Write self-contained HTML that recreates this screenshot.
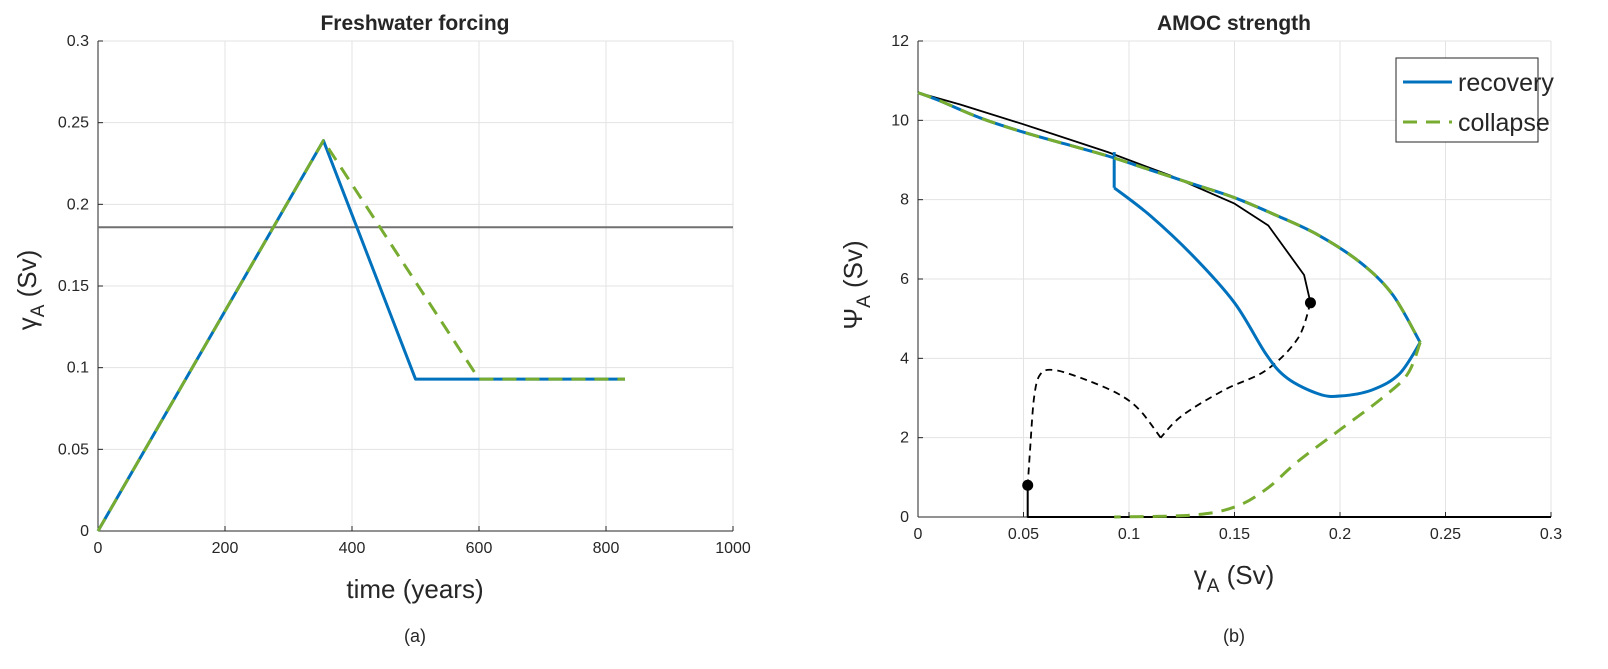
<!DOCTYPE html>
<html><head><meta charset="utf-8"><style>
body{margin:0;background:#fff}
svg text{font-family:"Liberation Sans",sans-serif;fill:#262626}
</style></head><body>
<svg id="c" width="1608" height="664" xmlns="http://www.w3.org/2000/svg"></svg>
<script>
// Left panel data
const leftTimeRecovery=[0,355,500,830];
const leftGammaRecovery=[0,0.239,0.093,0.093];
const leftTimeCollapse=[0,355,600,830];
const leftGammaCollapse=[0,0.239,0.093,0.093];
const leftThreshold=0.186;
const leftXTicks=[0,200,400,600,800,1000];
const leftYTicks=[0,0.05,0.1,0.15,0.2,0.25,0.3];
// Right panel data
const upperGamma=[0,0.01,0.03,0.05,0.07,0.09,0.11,0.13,0.15,0.17,0.19,0.21,0.225,0.238];
const upperPsi=[10.7,10.5,10.05,9.7,9.4,9.1,8.75,8.4,8.05,7.6,7.1,6.4,5.6,4.4];
const stableGamma=[0,0.02,0.05,0.09,0.12,0.15,0.166,0.183,0.186];
const stablePsi=[10.7,10.4,9.9,9.2,8.6,7.9,7.35,6.1,5.4];
const unstableGammaA=[0.186,0.18,0.165,0.145,0.125,0.115];
const unstablePsiA=[5.4,4.5,3.7,3.2,2.55,2.0];
const unstableGammaB=[0.115,0.105,0.095,0.08,0.065,0.058,0.055,0.053,0.052];
const unstablePsiB=[2.0,2.7,3.1,3.45,3.7,3.6,3.0,1.6,0.8];
const offGamma=[0.052,0.052,0.3];
const offPsi=[0.8,0,0];
const jumpGamma=[0.093,0.093];
const jumpPsi=[9.2,8.3];
const recGamma=[0.093,0.11,0.13,0.15,0.165,0.175,0.19,0.2,0.215,0.228,0.238];
const recPsi=[8.3,7.6,6.6,5.4,4.1,3.5,3.1,3.05,3.2,3.6,4.4];
const colGamma=[0.238,0.232,0.22,0.2,0.18,0.165,0.15,0.13,0.093];
const colPsi=[4.4,3.6,3.0,2.2,1.4,0.7,0.25,0.05,0];
const foldPointsGamma=[0.186,0.052];
const foldPointsPsi=[5.4,0.8];
const rightXTicks=[0,0.05,0.1,0.15,0.2,0.25,0.3];
const rightYTicks=[0,2,4,6,8,10,12];

const svg=document.getElementById('c');const NS='http://www.w3.org/2000/svg';
function el(t,a,p){const e=document.createElementNS(NS,t);for(const k in a)e.setAttribute(k,a[k]);(p||svg).appendChild(e);return e;}
function axes(x0,x1,y0,y1,xmin,xmax,ymin,ymax){return{X:v=>x0+(v-xmin)/(xmax-xmin)*(x1-x0),Y:v=>y0-(v-ymin)/(ymax-ymin)*(y0-y1),x0,x1,y0,y1};}
function frame(A,xt,yt,fx,fy,name){
 const g=el('g',{});
 xt.forEach(v=>{const x=A.X(v);el('line',{x1:x,x2:x,y1:A.y1,y2:A.y0,stroke:'#e3e3e3'},g);el('line',{x1:x,x2:x,y1:A.y0,y2:A.y0-5,stroke:'#262626'},g);
  const t=el('text',{x:x,y:A.y0+22,'text-anchor':'middle','font-size':16},g);t.textContent=fx(v);});
 yt.forEach(v=>{const y=A.Y(v);el('line',{x1:A.x0,x2:A.x1,y1:y,y2:y,stroke:'#e3e3e3'},g);el('line',{x1:A.x0,x2:A.x0+5,y1:y,y2:y,stroke:'#262626'},g);
  const t=el('text',{x:A.x0-9,y:y+5,'text-anchor':'end','font-size':16},g);t.textContent=fy(v);});
 el('line',{x1:A.x0,x2:A.x0,y1:A.y1,y2:A.y0,stroke:'#262626'},g);el('line',{x1:A.x0,x2:A.x1,y1:A.y0,y2:A.y0,stroke:'#262626'},g);
}
function line(A,xs,ys,st,name,smooth){
 const P=xs.map((v,i)=>[A.X(v),A.Y(ys[i])]);let d='M'+P[0][0].toFixed(1)+','+P[0][1].toFixed(1);
 for(let i=1;i<P.length;i++){
  if(smooth){const p0=P[Math.max(0,i-2)],p1=P[i-1],p2=P[i],p3=P[Math.min(P.length-1,i+1)];
   const c1=[p1[0]+(p2[0]-p0[0])/6,p1[1]+(p2[1]-p0[1])/6],c2=[p2[0]-(p3[0]-p1[0])/6,p2[1]-(p3[1]-p1[1])/6];
   d+='C'+c1.map(v=>v.toFixed(1))+' '+c2.map(v=>v.toFixed(1))+' '+p2.map(v=>v.toFixed(1));}
  else d+='L'+P[i][0].toFixed(1)+','+P[i][1].toFixed(1);}
 const p=el('path',Object.assign({d:d,fill:'none','stroke-linejoin':'round'},st));return p;}
const BLUE='#0072bd',GREEN='#77ac30';
// Left
const L=axes(98,733,531,41,0,1000,0,0.3);
frame(L,leftXTicks,leftYTicks,v=>String(v),v=>String(+v.toFixed(2)),'left-axes');
const th=el('line',{x1:L.x0,x2:L.x1,y1:L.Y(leftThreshold),y2:L.Y(leftThreshold),stroke:'#707070','stroke-width':2});

line(L,leftTimeRecovery,leftGammaRecovery,{stroke:BLUE,'stroke-width':3},'recovery-forcing');
line(L,leftTimeCollapse,leftGammaCollapse,{stroke:GREEN,'stroke-width':3,'stroke-dasharray':'14,9'},'collapse-forcing');
// Right
const R=axes(918,1551,517,41,0,0.3,0,12);
frame(R,rightXTicks,rightYTicks,v=>String(+v.toFixed(2)),v=>String(v),'right-axes');
line(R,stableGamma,stablePsi,{stroke:'#000','stroke-width':1.8},'stable-branch',false);
line(R,unstableGammaA,unstablePsiA,{stroke:'#000','stroke-width':1.8,'stroke-dasharray':'7,5'},'unstable-branch',true);
line(R,unstableGammaB,unstablePsiB,{stroke:'#000','stroke-width':1.8,'stroke-dasharray':'7,5'},'unstable-branch',true);
line(R,offGamma,offPsi,{stroke:'#000','stroke-width':2},'off-branch',false);
line(R,jumpGamma,jumpPsi,{stroke:BLUE,'stroke-width':3},'recovery-jump',false);
line(R,recGamma,recPsi,{stroke:BLUE,'stroke-width':3},'recovery-lower',true);
line(R,upperGamma,upperPsi,{stroke:BLUE,'stroke-width':3},'recovery-upper',true);
line(R,upperGamma,upperPsi,{stroke:GREEN,'stroke-width':3,'stroke-dasharray':'14,9'},'collapse-upper',true);
line(R,colGamma,colPsi,{stroke:GREEN,'stroke-width':3,'stroke-dasharray':'14,9'},'collapse-lower',true);
foldPointsGamma.forEach((g,i)=>{const c=el('circle',{cx:R.X(g),cy:R.Y(foldPointsPsi[i]),r:5.5,fill:'#000'});
 });
</script>
<svg width="1608" height="664" style="position:absolute;left:0;top:0" xmlns="http://www.w3.org/2000/svg">
<text x="415" y="30" text-anchor="middle" font-size="21" font-weight="bold" fill="#000">Freshwater forcing</text>
<text x="1234" y="30" text-anchor="middle" font-size="21" font-weight="bold" fill="#000">AMOC strength</text>
<text x="415" y="598" text-anchor="middle" font-size="26">time (years)</text>
<text transform="translate(36,290) rotate(-90)" text-anchor="middle" font-size="26">γ<tspan font-size="19" dy="8">A</tspan><tspan dy="-8"> (Sv)</tspan></text>
<text x="1234" y="584" text-anchor="middle" font-size="26">γ<tspan font-size="19" dy="8">A</tspan><tspan dy="-8">  (Sv)</tspan></text>
<text transform="translate(862,285) rotate(-90)" text-anchor="middle" font-size="26">Ψ<tspan font-size="19" dy="8">A</tspan><tspan dy="-8">  (Sv)</tspan></text>
<text x="415" y="642" text-anchor="middle" font-size="18" fill="#000">(a)</text>
<text x="1234" y="642" text-anchor="middle" font-size="18" fill="#000">(b)</text>
<g>
<rect x="1396" y="58" width="142" height="84" fill="#fff" stroke="#262626"/>
<line x1="1403" x2="1452" y1="82" y2="82" stroke="#0072bd" stroke-width="3"/>
<text x="1458" y="91" font-size="25" fill="#000">recovery</text>
<line x1="1403" x2="1452" y1="122" y2="122" stroke="#77ac30" stroke-width="3" stroke-dasharray="14,9"/>
<text x="1458" y="131" font-size="25" fill="#000">collapse</text>
</g>
</svg>
</body></html>
